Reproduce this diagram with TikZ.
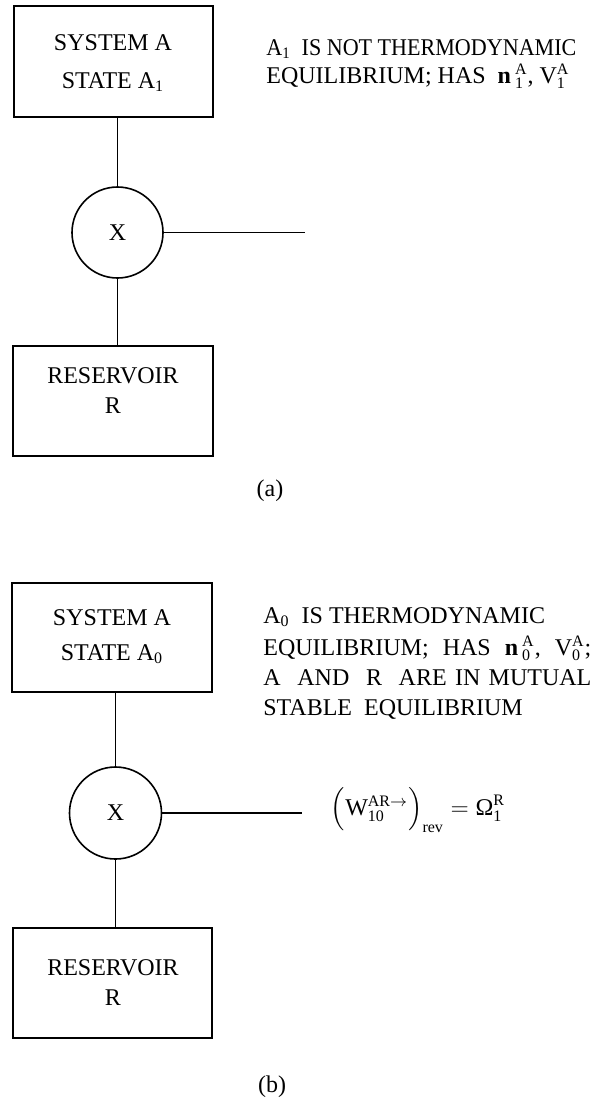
\documentclass[tikz,border=0pt]{standalone}
\usepackage{amsmath}
\usepackage{graphicx}
\usepackage{fontspec}
\setmainfont{Liberation Serif}
\begin{document}
\begin{tikzpicture}[x=0.5pt,y=-0.5pt,
  txt/.style={inner sep=0pt, font=\fontsize{12}{14}\selectfont},
  box/.style={draw, line width=0.8pt, inner sep=0pt},
  valve/.style={draw, circle, line width=0.8pt, inner sep=0pt, txt},
  lbl/.style={txt, anchor=base west},
  ctr/.style={txt, anchor=base},
  wire/.style={line width=0.75pt}]
\useasboundingbox (0,0) rectangle (600,1099);

% ---------- (a) ----------
\node[box, minimum width=99.5pt, minimum height=55.5pt] (sa) at (113.5,61.5) {};
\node[ctr] (sa1) at (113,50) {SYSTEM A};
\node[ctr] (sa2) at (113,88) {STATE A$_{\text{1}}$};
\node[valve, minimum size=45.5pt] (xa) at (117.5,232.5) {X};
\node[box, minimum width=100pt, minimum height=55pt] (ra) at (113,401) {};
\node[ctr] (ra1) at (113,383) {RESERVOIR};
\node[ctr] (ra2) at (113,413) {R};
\coordinate (ea) at (305,232.5);
\draw[wire] (xa.north) -- (xa.north |- sa.south);
\draw[wire] (xa.south) -- (xa.south |- ra.north);
\draw[wire] (xa.east) -- (ea);
\node[lbl] (ta1) at (266,55) {\scalebox{0.92}[1]{A$_{\text{1}}$\ \ IS NOT THERMODYNAMIC}};
\node[lbl] (ta2) at (266,83) {EQUILIBRIUM;\ HAS \ \textbf{n}\,$^{\text{A}}_{\text{1}}$,\ V$^{\text{A}}_{\text{1}}$};
\node[txt] (capa) at (270,491) {(a)};

% ---------- (b) ----------
\node[box, minimum width=100pt, minimum height=54.5pt] (sb) at (112,637.5) {};
\node[ctr] (sb1) at (112,625) {SYSTEM A};
\node[ctr] (sb2) at (112,660) {STATE A$_{\text{0}}$};
\node[valve, minimum size=46pt] (xb) at (115.5,813) {X};
\node[box, minimum width=99.5pt, minimum height=55pt] (rb) at (112.5,983) {};
\node[ctr] (rb1) at (113,975) {RESERVOIR};
\node[ctr] (rb2) at (113,1005) {R};
\coordinate (eb) at (302,813);
\draw[wire] (xb.north) -- (xb.north |- sb.south);
\draw[wire] (xb.south) -- (xb.south |- rb.north);
\draw[wire] (xb.east) -- (eb);
\node[lbl] (tb1) at (263,623) {A$_{\text{0}}$\ \ IS THERMODYNAMIC};
\node[lbl] (tb2) at (263,655) {\makebox[164pt][s]{EQUILIBRIUM; HAS \textbf{n}\,$^{\text{A}}_{\text{0}}$,\ V$^{\text{A}}_{\text{0}}$;}};
\node[lbl] (tb3) at (263,685) {\makebox[164pt][s]{A\ \ AND\ \ R\ \ ARE IN MUTUAL}};
\node[lbl] (tb4) at (263,715) {STABLE\ \ EQUILIBRIUM};
\node[txt] (fb) at (418,810) {$\Bigl(\text{W}^{\text{AR}\rightarrow}_{\text{10}}\Bigr)_{\text{rev}} = \text{Ω}^{\text{R}}_{\text{1}}$};
\node[txt] (capb) at (272,1087) {(b)};
\end{tikzpicture}
\end{document}
